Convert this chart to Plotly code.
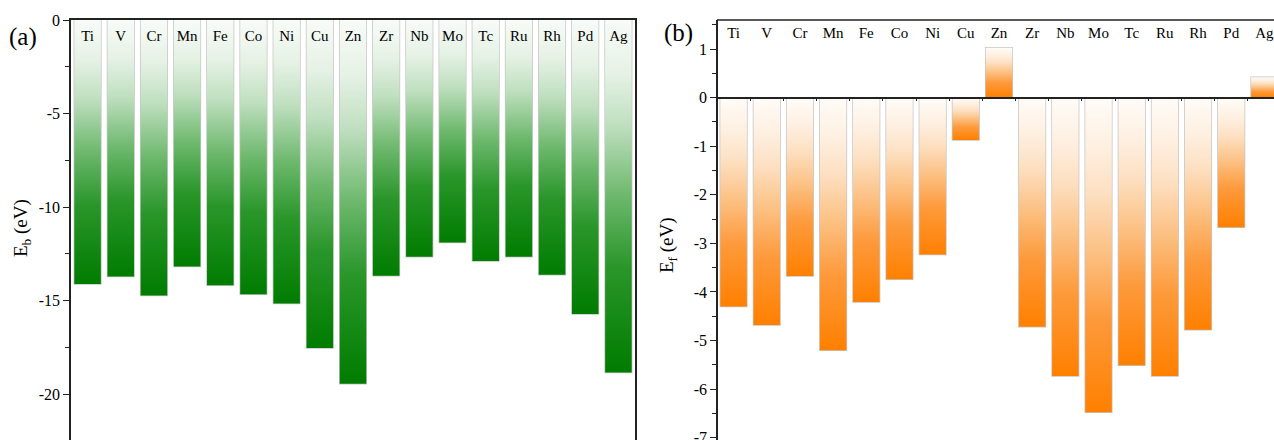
import plotly.graph_objects as go

elements = ["Ti", "V", "Cr", "Mn", "Fe", "Co", "Ni", "Cu", "Zn",
            "Zr", "Nb", "Mo", "Tc", "Ru", "Rh", "Pd", "Ag"]
Eb = [-14.1, -13.7, -14.72, -13.17, -14.17, -14.65, -15.15, -17.53, -19.43,
      -13.67, -12.65, -11.89, -12.88, -12.65, -13.61, -15.71, -18.83]
Ef = [-4.30, -4.68, -3.67, -5.20, -4.21, -3.74, -3.23, -0.87, 1.03,
      -4.72, -5.73, -6.48, -5.51, -5.73, -4.78, -2.67, 0.42]

Eb_ticks = [0, -5, -10, -15, -20]
Ef_ticks = [1, 0, -1, -2, -3, -4, -5, -6, -7]

W, H = 1274, 440
FONT = "Liberation Serif"
BW = 0.8

# layout geometry (pixels)
top_px = 20
L_x0, L_x1 = 71, 635
R_x0, R_x1 = 717, 1274
yd_top = 1 - top_px / H

L_yr = [-22.44, 0.0]
R_yr = [-7.05, 1.60]
slot_px = (L_x1 - L_x0) / 17
R_xr = [-0.5, -0.5 + (R_x1 - R_x0) / slot_px]

green_cs = [[0, "#007c00"], [0.3, "#2a962a"], [0.5, "#6db86d"], [0.7, "#bfdfbf"],
            [0.85, "#e6f2e6"], [1, "#f8fbf8"]]
orange_cs = [[0, "#ff8000"], [0.3, "#fd9a3c"], [0.5, "#fcbf80"], [0.7, "#fde0c2"],
             [0.85, "#fef0e2"], [1, "#fffcf8"]]

fig = go.Figure()


def add_bars(vals, xa, ya, cs):
    for i, v in enumerate(vals):
        xs = [i - BW / 2, i + BW / 2, i + BW / 2, i - BW / 2, i - BW / 2]
        ys = [0, 0, v, v, 0]
        fig.add_trace(go.Scatter(
            x=xs, y=ys, fill="toself", mode="lines",
            line=dict(width=0, color="rgba(0,0,0,0)"),
            fillgradient=dict(type="vertical", colorscale=cs),
            hoverinfo="skip", showlegend=False, xaxis=xa, yaxis=ya))
    fig.add_trace(go.Bar(
        x=list(range(len(vals))), y=vals, width=BW,
        marker=dict(color="rgba(0,0,0,0)", line=dict(color="#c6c6c6", width=1.5)),
        showlegend=False, xaxis=xa, yaxis=ya))


add_bars(Eb, "x", "y", green_cs)
add_bars(Ef, "x2", "y2", orange_cs)

# element labels
L_lab_y = -(37.5 - top_px) / ((H - top_px) / (L_yr[1] - L_yr[0]))
R_ppu = (H - top_px) / (R_yr[1] - R_yr[0])
R_lab_y = R_yr[1] - (34 - top_px) / R_ppu
fig.add_trace(go.Scatter(x=list(range(17)), y=[L_lab_y] * 17, text=elements,
                         mode="text", textfont=dict(family=FONT, size=15, color="black"),
                         showlegend=False, xaxis="x", yaxis="y", cliponaxis=True))
fig.add_trace(go.Scatter(x=list(range(17)), y=[R_lab_y] * 17, text=elements,
                         mode="text", textfont=dict(family=FONT, size=15, color="black"),
                         showlegend=False, xaxis="x2", yaxis="y2", cliponaxis=True))

axcol = "#222222"
tickfont = dict(family=FONT, size=16, color="black")

zero_pos = (0 - R_yr[0]) / (R_yr[1] - R_yr[0]) * yd_top

fig.update_layout(
    width=W, height=H, margin=dict(l=0, r=0, t=0, b=0, autoexpand=False),
    paper_bgcolor="white", plot_bgcolor="white",
    barmode="overlay",
    xaxis=dict(domain=[L_x0 / W, L_x1 / W], range=[-0.5, 16.5], side="top",
               showline=True, linecolor=axcol, linewidth=1.5, showgrid=False,
               zeroline=False, showticklabels=False, ticks="", anchor="y",
               automargin=False),
    yaxis=dict(domain=[0, yd_top], range=L_yr, showline=True, linecolor=axcol,
               linewidth=1.5, mirror=True, showgrid=False, zeroline=False,
               ticks="outside", ticklen=6, tickwidth=1.3, tickcolor=axcol,
               tickvals=Eb_ticks, ticktext=[str(t) for t in Eb_ticks],
               tickfont=tickfont, anchor="x", ticklabeloverflow="allow",
               automargin=False,
               minor=dict(tickvals=[-2.5, -7.5, -12.5, -17.5, -22.5], ticks="outside",
                          ticklen=4, tickwidth=1.2, tickcolor=axcol, showgrid=False)),
    xaxis2=dict(domain=[R_x0 / W, 1.0], range=R_xr, anchor="free", position=zero_pos,
                showline=True, linecolor=axcol, linewidth=1.5, showgrid=False,
                zeroline=False, showticklabels=False, ticks="outside", ticklen=3,
                tickwidth=1.3, tickcolor=axcol, automargin=False,
                tickvals=[i + 0.5 for i in range(16)]),
    yaxis2=dict(domain=[0, yd_top], range=R_yr, showline=True, linecolor=axcol,
                linewidth=1.5, showgrid=False, zeroline=False, anchor="free",
                position=R_x0 / W, ticklabeloverflow="allow", automargin=False,
                ticks="outside", ticklen=6, tickwidth=1.3, tickcolor=axcol,
                tickvals=Ef_ticks, ticktext=[str(t) for t in Ef_ticks],
                tickfont=tickfont,
                minor=dict(tickvals=[1.5, 0.5, -0.5, -1.5, -2.5, -3.5, -4.5, -5.5, -6.5],
                           ticks="outside", ticklen=4, tickwidth=1.2, tickcolor=axcol,
                           showgrid=False)),
    shapes=[dict(type="line", xref="paper", yref="paper", x0=R_x0 / W, x1=1.0,
                 y0=yd_top, y1=yd_top, line=dict(color=axcol, width=1.5))],
    annotations=[
        dict(text="(a)", x=7 / W, y=1 - 37 / H, xref="paper", yref="paper",
             xanchor="left", yanchor="middle", showarrow=False,
             font=dict(family=FONT, size=25, color="black")),
        dict(text="(b)", x=662 / W, y=1 - 33 / H, xref="paper", yref="paper",
             xanchor="left", yanchor="middle", showarrow=False,
             font=dict(family=FONT, size=25, color="black")),
        dict(text="E<sub>b</sub> (eV)", x=22 / W, y=1 - 228 / H, xref="paper", yref="paper",
             xanchor="center", yanchor="middle", textangle=-90, showarrow=False,
             font=dict(family=FONT, size=19, color="black")),
        dict(text="E<sub>f</sub> (eV)", x=668 / W, y=1 - 245 / H, xref="paper", yref="paper",
             xanchor="center", yanchor="middle", textangle=-90, showarrow=False,
             font=dict(family=FONT, size=19, color="black")),
    ],
)

fig.write_html("out.html")
